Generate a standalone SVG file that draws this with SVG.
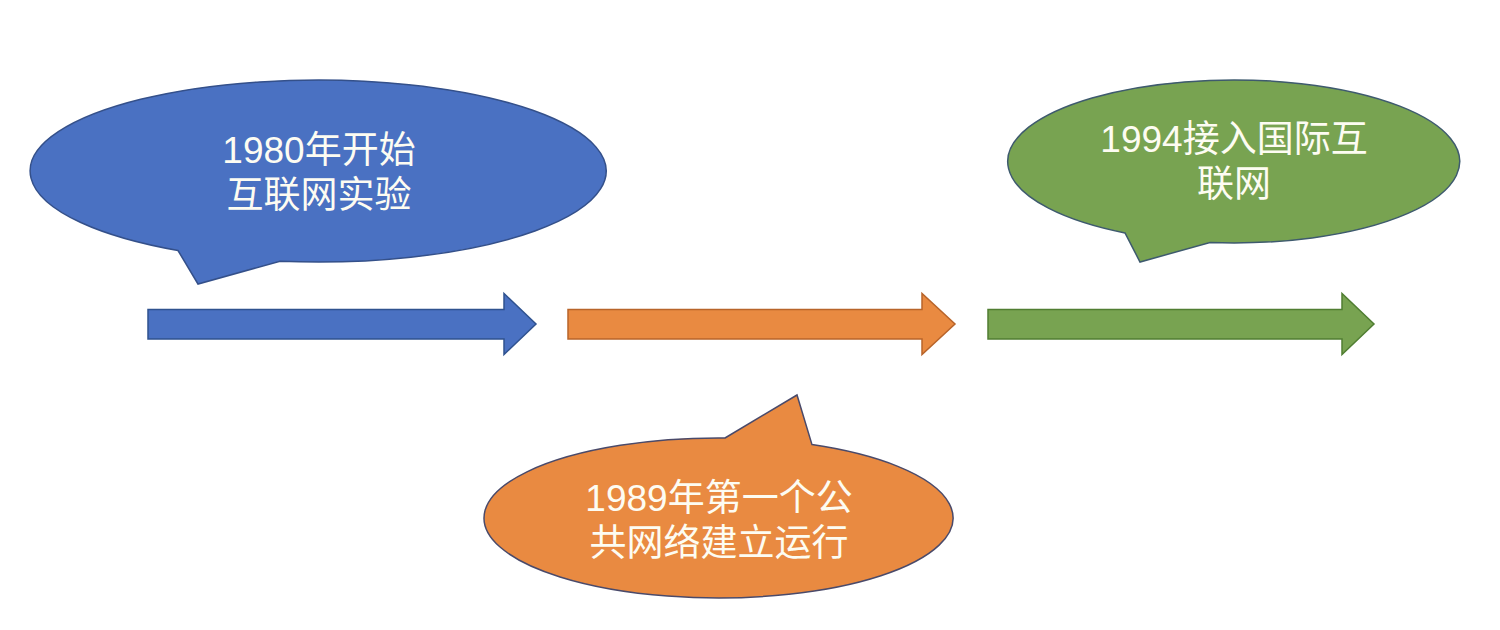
<svg xmlns="http://www.w3.org/2000/svg" width="1500" height="630" viewBox="0 0 1500 630">
  <style>
    .blue { fill: #4A71C2; stroke: #2F528F; stroke-width: 1.5; }
    .orange { fill: #E98A41; stroke: #4A4A6A; stroke-width: 1.5; }
    .orange-arrow { fill: #E98A41; stroke: #B8642A; stroke-width: 1.5; }
    .green { fill: #78A351; stroke: #3E5A6E; stroke-width: 1.5; }
    .green-arrow { fill: #78A351; stroke: #507E32; stroke-width: 1.5; }
    .blue-call { fill: #4A71C2; stroke: #34508A; stroke-width: 1.5; }
    .label { font-family: "Liberation Sans", "Noto Sans CJK SC", sans-serif; font-size: 37px; fill: #FDFCF2; text-anchor: middle; }
  </style>
  <rect width="1500" height="630" fill="#FFFFFF"/>

  <g id="connectors">
    <path class="blue" d="M148,309.5 L504,309.5 L504,293.5 L536,324 L504,354.5 L504,339 L148,339 Z"/>
    <path class="orange-arrow" d="M568,309.5 L922,309.5 L922,293.5 L955,324 L922,354.5 L922,339 L568,339 Z"/>
    <path class="green-arrow" d="M988,309.5 L1342,309.5 L1342,293.5 L1374,324 L1342,354.5 L1342,339 L988,339 Z"/>
  </g>

  <g id="callout-1980">
    <path class="blue-call" d="M178,250.5 L198,284 L280,261.2 A288,91 0 1 0 178,250.5 Z"/>
    <text class="label" x="319" y="163">1980年开始</text>
    <text class="label" x="319" y="208">互联网实验</text>
  </g>

  <g id="callout-1989">
    <path class="orange" d="M725,438 L797,395 L812,444.6 A234.5,80 0 1 1 725,438 Z"/>
    <text class="label" x="719" y="511">1989年第一个公</text>
    <text class="label" x="719" y="556">共网络建立运行</text>
  </g>

  <g id="callout-1994">
    <path class="green" d="M1125,232.9 L1140,262 L1210,242.5 A226,81.5 0 1 0 1125,232.9 Z"/>
    <text class="label" x="1234" y="152">1994接入国际互</text>
    <text class="label" x="1234" y="197">联网</text>
  </g>
</svg>
